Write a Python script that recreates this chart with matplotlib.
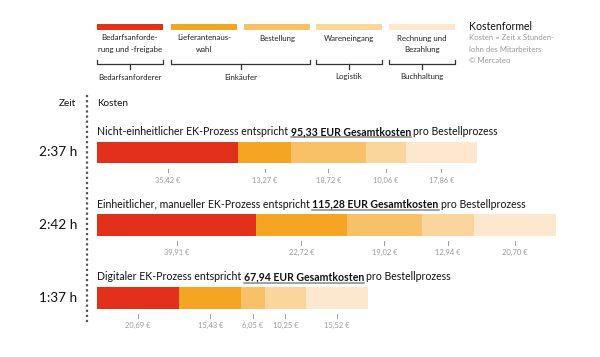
import matplotlib
matplotlib.use("Agg")
import matplotlib.pyplot as plt
import numpy as np

plt.rcParams["font.family"] = ["Lato", "DejaVu Sans"]

# data
steps = ["Bedarfsanforde-\nrung und -freigabe", "Lieferantenaus-\nwahl", "Bestellung",
         "Wareneingang", "Rechnung und\nBezahlung"]
roles = ["Bedarfsanforderer", "Einkäufer", "Logistik", "Buchhaltung"]
role_steps = [(0, 0), (1, 2), (3, 3), (4, 4)]
processes = ["Nicht-einheitlicher EK-Prozess", "Einheitlicher, manueller EK-Prozess",
             "Digitaler EK-Prozess"]
times = ["2:37 h", "2:42 h", "1:37 h"]
totals = ["95,33", "115,28", "67,94"]
costs = [
    [35.42, 13.27, 18.72, 10.06, 17.86],
    [39.91, 22.72, 19.02, 12.94, 20.70],
    [20.69, 15.43, 6.05, 10.25, 15.52],
]
colors = ["#e3301b", "#f5a524", "#f8c067", "#fad59c", "#fde7ce"]

W, H = 600, 357
px_per_eur = 3.985
x0 = 97
row_y = [152.5, 225, 298]
bar_h = 21.5

fig = plt.figure(figsize=(W / 100, H / 100), dpi=100)
ax = fig.add_axes([0, 0, 1, 1])
ax.set_xlim(0, W)
ax.set_ylim(H, 0)
ax.axis("off")

bx = fig.add_axes([x0 / W, 0, (W - x0) / W, 1])
bx.set_xlim(0, (W - x0) / px_per_eur)
bx.set_ylim(H, 0)
bx.axis("off")

# header legend
strip_x = [97, 171, 244, 316, 389]
strip_w = 66
for i, s in enumerate(steps):
    ax.add_patch(plt.Rectangle((strip_x[i], 24), strip_w, 6, color=colors[i], lw=0))
    ax.text(strip_x[i] + strip_w / 2, 34.5, s, ha="center", va="top", fontsize=5.7,
            color="#222", linespacing=1.7)

for r, (a, b) in zip(roles, role_steps):
    xa, xb = strip_x[a], strip_x[b] + strip_w
    xm = (xa + xb) / 2
    ax.plot([xa, xa, xb, xb], [60, 64, 64, 60], color="#333", lw=0.9)
    ax.plot([xm, xm], [64, 69], color="#333", lw=0.9)
    ax.text(xm, 77, r, ha="center", va="center", fontsize=5.7, color="#222")

ax.text(469, 26, "Kostenformel", fontsize=7.6, color="#111", va="center")
ax.text(469, 34, "Kosten = Zeit x Stunden-\nlohn des Mitarbeiters\n\u00a9 Mercateo",
        fontsize=5.6, color="#999", va="top", linespacing=1.75)

# axis labels
ax.text(76, 104, "Zeit", ha="right", va="center", fontsize=7.2, color="#111")
ax.text(97, 104, "Kosten", ha="left", va="center", fontsize=7.2, color="#111")
ax.plot([87, 87], [95, 323], color="#555", lw=1.6, linestyle=(0, (1, 1.3)))

# rows
underline = []
for i, row in enumerate(costs):
    y = row_y[i]
    left = np.concatenate([[0], np.cumsum(row)[:-1]])
    bx.barh(y, row, left=left, height=bar_h, color=colors, lw=0)
    for l, v in zip(left, row):
        xc = l + v / 2
        bx.plot([xc, xc], [y + bar_h / 2 + 5.5, y + bar_h / 2 + 9], color="#888", lw=0.6)
        bx.text(xc, y + bar_h / 2 + 17, f"{v:.2f} €".replace(".", ","), ha="center",
                va="center", fontsize=5.4, color="#999")

    ax.text(77, y, times[i], ha="right", va="center", fontsize=9.8, color="#111")
    ty = y - 17.5
    t1 = ax.text(97, ty, processes[i] + " entspricht", fontsize=7.6, color="#111",
                 va="baseline")
    t2 = ax.annotate(totals[i] + " EUR Gesamtkosten", xy=(1, 0), xycoords=t1,
                     xytext=(1.8, 0), textcoords="offset points", fontsize=7.6,
                     fontweight="bold", color="#111", va="bottom")
    ax.annotate("pro Bestellprozess", xy=(1, 0), xycoords=t2, xytext=(1.8, 0),
                textcoords="offset points", fontsize=7.6, color="#111", va="bottom")
    underline.append(t2)

fig.canvas.draw()
inv = ax.transData.inverted()
for t in underline:
    bb = t.get_window_extent()
    (xa, ya), (xb, yb) = inv.transform([[bb.x0, bb.y0], [bb.x1, bb.y0]])
    ax.plot([xa, xb], [ya + 0.3, yb + 0.3], color="#888", lw=1.1)

fig.savefig("out.png", dpi=100)
